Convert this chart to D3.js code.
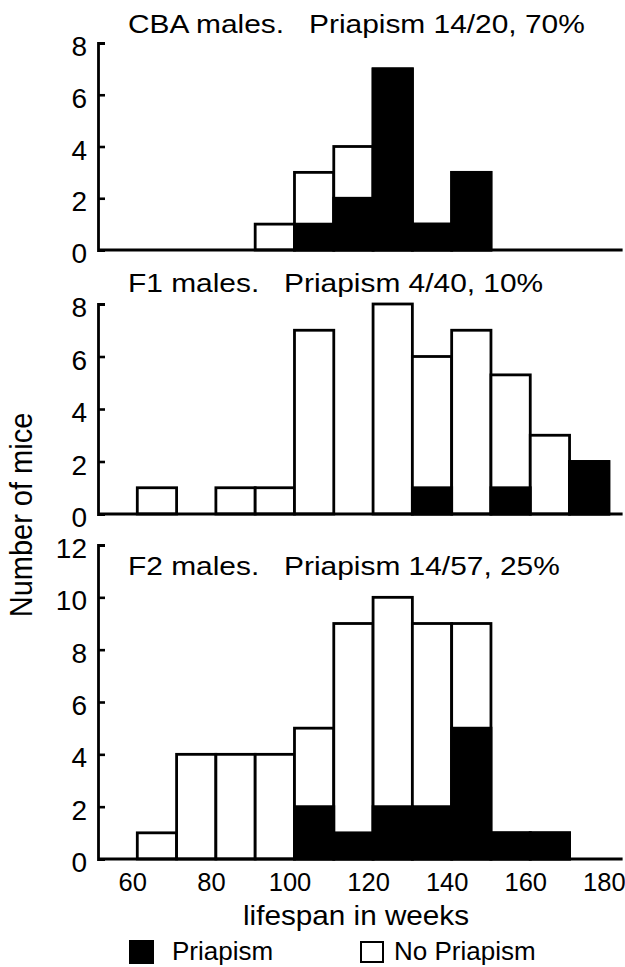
<!DOCTYPE html>
<html>
<head>
<meta charset="utf-8">
<script src="https://cdn.jsdelivr.net/npm/d3@7"></script>
<style>
  body { margin: 0; background: #fff; }
  svg text { font-family: "Liberation Sans", Arial, Helvetica, sans-serif; fill: #000; }
</style>
</head>
<body>
<div id="svg-container"></div>
<script>
////////////////////////////////////////////////////////////////////
////////////////////////////  Data  ////////////////////////////////
const binStarts = [60, 70, 80, 90, 100, 110, 120, 130, 140, 150, 160, 170];
const xTicks = [60, 80, 100, 120, 140, 160, 180];

const cbaPriapism = [0, 0, 0, 0, 1, 2, 7, 1, 3, 0, 0, 0];
const cbaNone = [0, 0, 0, 1, 2, 2, 0, 0, 0, 0, 0, 0];

const f1Priapism = [0, 0, 0, 0, 0, 0, 0, 1, 0, 1, 0, 2];
const f1None = [1, 0, 1, 1, 7, 0, 8, 5, 7, 4.3, 3, 0];

const f2Priapism = [0, 0, 0, 0, 2, 1, 2, 2, 5, 1, 1, 0];
const f2None = [1, 4, 4, 4, 3, 8, 8, 7, 4, 0, 0, 0];

const titles = [
  "CBA males.   Priapism 14/20, 70%",
  "F1 males.   Priapism 4/40, 10%",
  "F2 males.   Priapism 14/57, 25%",
];
const yTicks = [
  [0, 2, 4, 6, 8],
  [0, 2, 4, 6, 8],
  [0, 2, 4, 6, 8, 10, 12],
];
const legend = ["Priapism", "No Priapism"];

////////////////////////////////////////////////////////////////////
////////////////////////////  Init  ////////////////////////////////
const width = 625;
const height = 967;
const binWidth = 10;

const svg = d3
  .select("#svg-container")
  .append("svg")
  .attr("width", width)
  .attr("height", height);

const x = d3.scaleLinear().domain([50, 183.5]).range([98, 622.6]);

// panel layout: y ranges + title position
const panels = [
  { p: cbaPriapism, n: cbaNone, max: 8, range: [250, 43], titleY: 33 },
  { p: f1Priapism, n: f1None, max: 8, range: [514, 304], titleY: 292 },
  { p: f2Priapism, n: f2None, max: 12, range: [859, 545], titleY: 575 },
];

// stretch text horizontally (the figure is a bit wide)
const place = (sel, px, py, sx) =>
  sel.attr("transform", `translate(${px},${py}) scale(${sx},1)`);

panels.forEach((panel, k) => {
  const y = d3.scaleLinear().domain([0, panel.max]).range(panel.range);
  const g = svg.append("g");

  const bins = binStarts.map((b, i) => ({
    x0: b,
    p: panel.p[i],
    total: panel.p[i] + panel.n[i],
  }));

  // white (total) bars
  g.selectAll("rect.total")
    .data(bins.filter((d) => d.total > 0))
    .enter()
    .append("rect")
    .attr("class", "total")
    .attr("x", (d) => x(d.x0))
    .attr("width", (d) => x(d.x0 + binWidth) - x(d.x0))
    .attr("y", (d) => y(d.total))
    .attr("height", (d) => y(0) - y(d.total))
    .attr("fill", "#fff")
    .attr("stroke", "#000")
    .attr("stroke-width", 2.8);

  // black (priapism) bars
  g.selectAll("rect.pri")
    .data(bins.filter((d) => d.p > 0))
    .enter()
    .append("rect")
    .attr("class", "pri")
    .attr("x", (d) => x(d.x0))
    .attr("width", (d) => x(d.x0 + binWidth) - x(d.x0))
    .attr("y", (d) => y(d.p))
    .attr("height", (d) => y(0) - y(d.p))
    .attr("fill", "#000")
    .attr("stroke", "#000")
    .attr("stroke-width", 2.8);

  // y axis, ticks point inward
  const yAxis = g
    .append("g")
    .attr("transform", `translate(${x(50)},0)`)
    .call(
      d3
        .axisLeft(y)
        .tickValues(yTicks[k])
        .tickSizeInner(-7)
        .tickSizeOuter(-7)
        .tickPadding(11)
    );
  yAxis.select(".domain").attr("stroke-width", 2.8);
  yAxis.selectAll(".tick line").attr("stroke-width", 2.6);
  yAxis
    .selectAll(".tick text")
    .attr("font-size", 28)
    .attr("dy", "0.45em")
    .attr("font-family", null);

  // baseline
  g.append("line")
    .attr("x1", x(50))
    .attr("x2", x.range()[1])
    .attr("y1", y(0))
    .attr("y2", y(0))
    .attr("stroke", "#000")
    .attr("stroke-width", 2.8);

  // title
  place(
    g.append("text").style("white-space", "pre").attr("font-size", 26).text(titles[k]),
    128,
    panel.titleY,
    1.15
  );

  // x tick labels on the bottom panel only
  if (k === 2) {
    const xAxis = g
      .append("g")
      .attr("transform", `translate(0,${y(0)})`)
      .call(d3.axisBottom(x).tickValues(xTicks).tickSize(0).tickPadding(14));
    xAxis.select(".domain").remove();
    xAxis
      .selectAll(".tick text")
      .attr("font-size", 25.5)
      .attr("dx", -5)
      .attr("font-family", null);
  }
});

// axis titles
place(
  svg.append("text").attr("font-size", 27).attr("text-anchor", "middle").text("lifespan in weeks"),
  356,
  925,
  1.1
);

svg
  .append("text")
  .attr("font-size", 29)
  .attr("text-anchor", "middle")
  .attr("transform", "translate(32,515) rotate(-90) scale(1,1.1)")
  .text("Number of mice");

// legend
const legendX = [129, 360];
const legendG = svg
  .selectAll("g.legend")
  .data(legend)
  .enter()
  .append("g")
  .attr("class", "legend")
  .attr("transform", (d, i) => `translate(${legendX[i]},940)`);

legendG
  .append("rect")
  .attr("x", (d, i) => (i === 0 ? 0 : 1))
  .attr("y", (d, i) => (i === 0 ? 0 : 2))
  .attr("width", (d, i) => (i === 0 ? 25 : 22))
  .attr("height", (d, i) => (i === 0 ? 24 : 20))
  .attr("fill", (d, i) => (i === 0 ? "#000" : "#fff"))
  .attr("stroke", "#000")
  .attr("stroke-width", (d, i) => (i === 0 ? 0 : 2));

legendG
  .append("text")
  .attr("font-size", 26)
  .attr("x", (d, i) => (i === 0 ? 43 : 34))
  .attr("y", 20)
  .text((d) => d);
</script>
</body>
</html>
